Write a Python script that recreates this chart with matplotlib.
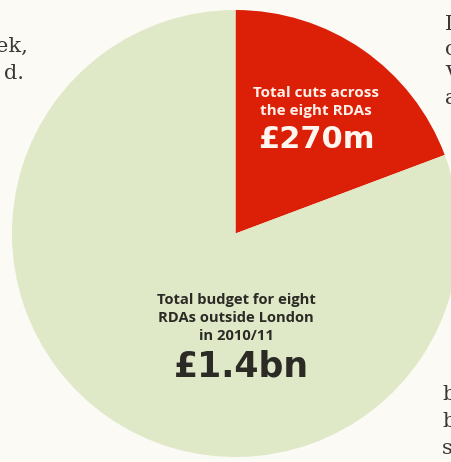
import matplotlib
matplotlib.use("Agg")
import matplotlib.pyplot as plt

# budget split, £m
slice_names = ["Total cuts across\nthe eight RDAs", "Total budget for eight\nRDAs outside London\nin 2010/11"]
slice_values = [270, 1130]
amount_labels = ["£270m", "£1.4bn"]
slice_colors = ["#dc2008", "#dfe8c7"]

# bits of the surrounding page text that the crop cuts through
left_bits = ["ek,", "d."]
right_bits = ["I", "c", "V", "a"]
lower_right_bits = ["b", "b", "s"]

W, H = 452, 462
fig = plt.figure(figsize=(W / 100, H / 100), dpi=100, facecolor="#fbfaf5")
ax = fig.add_axes([0, 0, 1, 1])

cx, cy, r = 235.5, H - 233.5, 223.5
ax.pie(slice_values, colors=slice_colors, startangle=90, counterclock=False,
       center=(cx, cy), radius=r, wedgeprops=dict(linewidth=0))

ax.set_xlim(0, W)
ax.set_ylim(0, H)
ax.set_aspect("equal")
ax.axis("off")

def py(y):
    return H - y

sans = ["Open Sans", "DejaVu Sans"]

# label inside the red wedge
ax.text(316, py(102), slice_names[0], color="#fff1ea", fontsize=11,
        fontweight="bold", family=sans, ha="center", va="center", linespacing=1.3)
ax.text(316, py(139), amount_labels[0], color="#fff6f0", fontsize=22,
        fontweight="heavy", family="DejaVu Sans", ha="center", va="center")

# label in the big slice
ax.text(236, py(318), slice_names[1], color="#2b2a25", fontsize=10.6,
        fontweight="bold", family=sans, ha="center", va="center", linespacing=1.35)
ax.text(241, py(367), amount_labels[1], color="#2b2a25", fontsize=25,
        fontweight="heavy", family="DejaVu Sans", ha="center", va="center")

serif = dict(color="#3a3835", fontsize=15, family="DejaVu Serif")
for i, s in enumerate(left_bits):
    ax.text(28 - i * 4, py(46 + i * 27), s, ha="right", va="center", **serif)
for i, s in enumerate(right_bits):
    ax.text(445, py(24 + i * 25), s, ha="left", va="center", **serif)
for i, s in enumerate(lower_right_bits):
    ax.text(442, py(395 + i * 27), s, ha="left", va="center", **serif)

fig.savefig("out.png", dpi=100, facecolor=fig.get_facecolor())
